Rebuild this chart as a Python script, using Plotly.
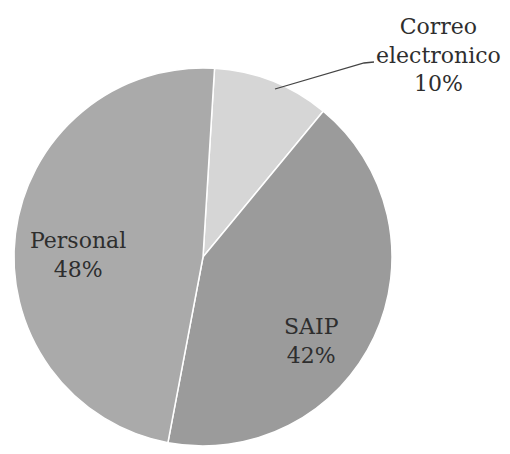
import plotly.graph_objects as go

labels = ["Correo<br>electronico", "SAIP", "Personal"]
values = [10, 42, 48]
colors = ["#d6d6d6", "#9b9b9b", "#aaaaaa"]

off = 8  # page body margin
W, H = 510 - 2 * off, 454 - 2 * off
cx, cy, r = 203 - off, 257 - off, 189

fig = go.Figure(go.Pie(
    labels=labels, values=values, sort=False, direction="clockwise",
    rotation=3.5, textinfo="none", hoverinfo="label+percent",
    marker=dict(colors=colors, line=dict(color="white", width=1.5)),
    domain=dict(x=[max(0, (cx - r) / W), (cx + r) / W],
                y=[max(0, (H - cy - r) / H), min(1, (H - cy + r) / H)]),
    showlegend=False,
))

font = dict(family="DejaVu Serif", size=22, color="#2e2e2e")
label_pos = [(438, 55), (311, 341), (78, 255)]
for lab, v, (x, y) in zip(labels, values, label_pos):
    fig.add_annotation(x=(x - off) / W, y=1 - (y - off) / H, xref="paper", yref="paper",
                       text=f"{lab}<br>{v}%", showarrow=False, font=font,
                       xanchor="center", yanchor="middle", align="center")

pts = [(275, 89), (364, 63), (374, 62)]
path = "M " + " L ".join(f"{(x - off)/W} {1-(y - off)/H}" for x, y in pts)
fig.add_shape(type="path", xref="paper", yref="paper", path=path,
              line=dict(color="#444444", width=1.3))

fig.update_layout(width=W, height=H, margin=dict(l=0, r=0, t=0, b=0),
                  paper_bgcolor="white", plot_bgcolor="white")
fig.write_html("out.html")
